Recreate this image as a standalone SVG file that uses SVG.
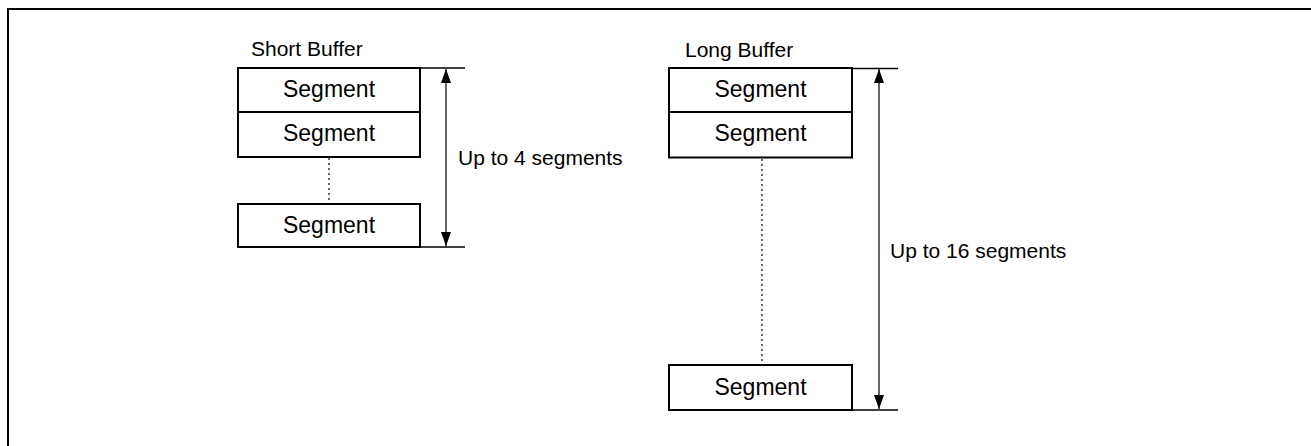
<svg xmlns="http://www.w3.org/2000/svg" width="1311" height="446" viewBox="0 0 1311 446">
<style>
.bg{fill:#fff}
.frame{fill:none;stroke:#000;stroke-width:2}
.box{fill:#fff;stroke:#000;stroke-width:2}
.seg{font-family:"Liberation Sans",Arial,sans-serif;font-size:23px;fill:#000;text-anchor:middle}
.lbl{font-family:"Liberation Sans",Arial,sans-serif;font-size:21px;fill:#000}
.ext{stroke:#000;stroke-width:1.5;fill:none}
.dim{stroke:#000;stroke-width:1.2;fill:none;marker-start:url(#ah);marker-end:url(#ah)}
.dot{stroke:#000;stroke-width:1.2;stroke-dasharray:2 3;fill:none}
</style>
<defs>
<marker id="ah" viewBox="0 0 14 10" refX="14" refY="5" markerWidth="14" markerHeight="10" markerUnits="userSpaceOnUse" orient="auto-start-reverse">
<path d="M0,0 L14,5 L0,10 z" fill="#000"/>
</marker>
</defs>
<rect class="bg" x="0" y="0" width="1311" height="446"/>
<rect class="frame" x="8" y="9" width="1320" height="460"/>

<g id="short-buffer">
<text class="lbl" x="251" y="56">Short Buffer</text>
<rect class="box" x="238" y="68" width="182" height="44"/>
<text class="seg" x="329" y="97">Segment</text>
<rect class="box" x="238" y="112" width="182" height="45"/>
<text class="seg" x="329" y="141">Segment</text>
<rect class="box" x="238" y="204" width="182" height="43"/>
<text class="seg" x="329" y="233">Segment</text>
</g>

<g id="long-buffer">
<text class="lbl" x="685" y="57">Long Buffer</text>
<rect class="box" x="669" y="68" width="183" height="44"/>
<text class="seg" x="760.5" y="97">Segment</text>
<rect class="box" x="669" y="112" width="183" height="45.5"/>
<text class="seg" x="760.5" y="141">Segment</text>
<rect class="box" x="669" y="365" width="183" height="45"/>
<text class="seg" x="760.5" y="395">Segment</text>
</g>

<g id="short-dimension">
<text class="lbl" x="458" y="165">Up to 4 segments</text>
</g>
<g id="long-dimension">
<text class="lbl" x="890" y="258">Up to 16 segments</text>
</g>

<g id="connectors">
<line class="dot" x1="329" y1="158" x2="329" y2="203"/>
<line class="dot" x1="762" y1="159" x2="762" y2="364"/>
<line class="ext" x1="420" y1="68" x2="465" y2="68"/>
<line class="ext" x1="420" y1="247" x2="465" y2="247"/>
<line class="dim" x1="446" y1="69" x2="446" y2="246"/>
<line class="ext" x1="852" y1="68.5" x2="898" y2="68.5"/>
<line class="ext" x1="852" y1="410" x2="898" y2="410"/>
<line class="dim" x1="879" y1="69" x2="879" y2="409"/>
</g>
</svg>
